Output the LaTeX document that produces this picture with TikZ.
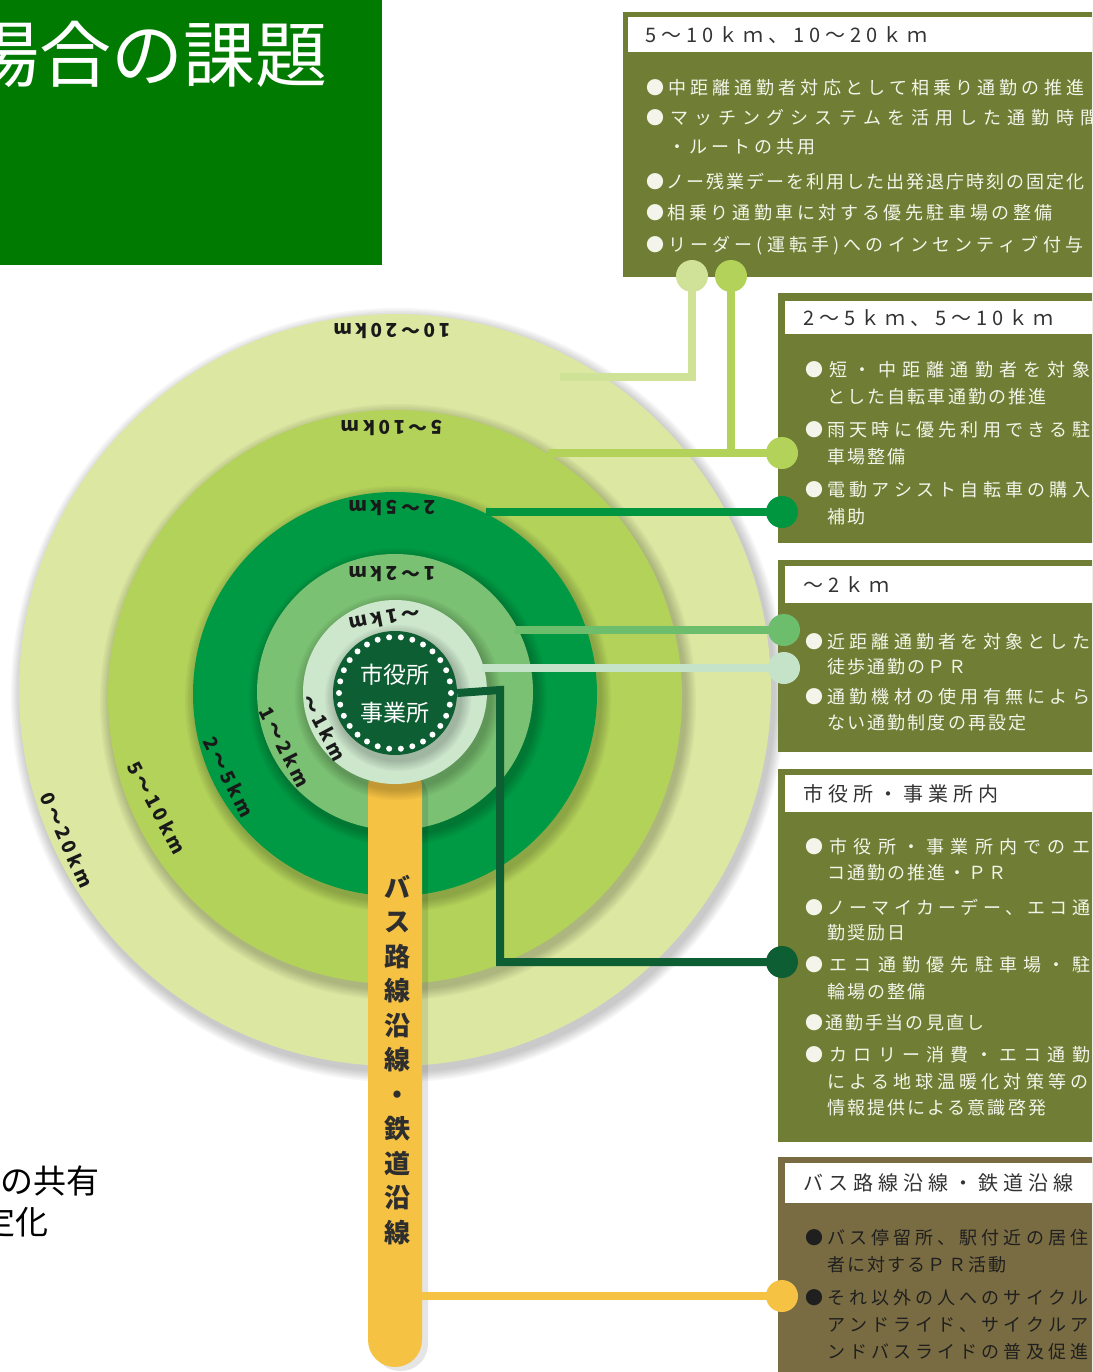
\documentclass[tikz,border=0pt]{standalone}
\usepackage{fontspec}
\setmainfont{Noto Sans CJK JP}
\newfontfamily\jpn{Noto Sans CJK JP}
\newfontfamily\jpb{Noto Sans CJK JP}
\newfontfamily\jplsa[LetterSpace=20]{Noto Sans CJK JP}
\newfontfamily\jpls[LetterSpace=12]{Noto Sans CJK JP}
\newfontfamily\jphead[LetterSpace=25]{Noto Sans CJK JP}
\newfontfamily\jplbl[LetterSpace=18]{Noto Sans CJK JP}
\usetikzlibrary{calc}
\definecolor{titlegreen}{HTML}{007A00}
\definecolor{ringA}{HTML}{DCE8A2}
\definecolor{ringB}{HTML}{B3D25A}
\definecolor{ringC}{HTML}{009A44}
\definecolor{ringD}{HTML}{7BC173}
\definecolor{ringE}{HTML}{CDE7CD}
\definecolor{coreC}{HTML}{0E5E33}
\definecolor{discA}{HTML}{D0E198}
\definecolor{discC}{HTML}{009640}
\definecolor{discD}{HTML}{6CBD6C}
\definecolor{discE}{HTML}{C5E3C8}
\definecolor{olive}{HTML}{6F7E34}
\definecolor{brownbox}{HTML}{7A6C42}
\definecolor{busY}{HTML}{F5C244}
\definecolor{boxtext}{HTML}{F4F4EA}
\definecolor{headtext}{HTML}{333333}
\newcommand\jsloop[1]{\ifx#1\relax\else#1\hfill\expandafter\jsloop\fi}
\newcommand\jspread[2]{\hbox to #1{\jpb\jsloop#2\relax\unskip}}
\newcommand\ringshade[3]{\foreach \k in {1,...,7}{\pgfmathsetmacro\rr{#3+\k*1.6}\fill[black,opacity=0.03] (#1+3,#2+5) circle[radius=\rr];}}
\tikzset{
  ringnode/.style={circle, inner sep=0pt, draw=none},
  disc/.style={circle, inner sep=0pt, minimum size=32pt, draw=none},
  conn/.style={line width=8pt},
  boxbg/.style={anchor=north west, inner sep=0pt, draw=none, rectangle},
  bt/.style={anchor=west, inner sep=0pt, text=boxtext, font=\jpls\fontsize{18}{22}\selectfont},
  bta/.style={bt, font=\jplsa\fontsize{18}{22}\selectfont},
  btd/.style={bt, text=black!88},
  headtxt/.style={anchor=west, inner sep=0pt, text=headtext, font=\jphead\fontsize{20}{24}\selectfont},
  lbl/.style={inner sep=0pt, text=black!90, font=\jplbl\bfseries\fontsize{19}{20}\selectfont},
}
\begin{document}
\begin{tikzpicture}[x=1pt,y=-1pt]
\useasboundingbox (0,0) rectangle (1092,1372);
\clip (0,0) rectangle (1092,1372);
\fill[white] (0,0) rectangle (1092,1372);

% title block
\fill[titlegreen] (0,0) rectangle (382,265);
\node[anchor=east, inner sep=0pt, text=white, font=\jpn\fontsize{72}{80}\selectfont] (title) at (328,54) {場合の課題};

% bottom-left clipped text
\node[anchor=east, inner sep=0pt, font=\jpn\fontsize{33}{36}\selectfont] (bl1) at (100,1181) {の共有};
\node[anchor=east, inner sep=0pt, font=\jpn\fontsize{33}{36}\selectfont] (bl2) at (49,1222) {定化};

% rings
\ringshade{395}{690}{376}
\node[ringnode, fill=ringA, minimum size=752pt] (rA) at (395,690) {};
\ringshade{395}{697}{287}
\node[ringnode, fill=ringB, minimum size=574pt] (rB) at (395,697) {};
\ringshade{395}{694}{202}
\node[ringnode, fill=ringC, minimum size=404pt] (rC) at (395,694) {};
\ringshade{395}{692}{138}
\node[ringnode, fill=ringD, minimum size=276pt] (rD) at (395,692) {};

% bus / rail bar
\fill[black, opacity=0.1, rounded corners=27pt] (373,770) rectangle (428,1371);
\node[fill=busY, rounded corners=27pt, minimum width=54pt, minimum height=607pt, inner sep=0pt] (bar) at (395,1063.5) {};
\node[align=center, inner sep=0pt, text=black!82, font=\jpb\bfseries\fontsize{26}{34.5}\selectfont] (bartxt) at (397,1060) {バ\\ス\\路\\線\\沿\\線\\・\\鉄\\道\\沿\\線};

\ringshade{395}{692}{92}
\node[ringnode, fill=ringE, minimum size=184pt] (rE) at (395,692) {};
\ringshade{395}{693}{62}
\node[ringnode, fill=coreC, minimum size=124pt] (core) at (395,693) {};
\foreach \a in {0,12,...,348} \fill[white] ($(core.center)+(\a:56)$) circle[radius=3];
\node[align=center, inner sep=0pt, text=white, font=\jpn\fontsize{23}{38}\selectfont] (coretxt) at (395,694) {市役所\\事業所};

% connector points
\coordinate (sA) at (560,377);
\coordinate (sB) at (548,453);
\coordinate (sC) at (486,512);
\coordinate (sD) at (515,630);
\coordinate (sE) at (482,668);
\coordinate (kF) at (500,690);
\coordinate (pA) at (692,276);
\coordinate (pAB) at (731,276);
\coordinate (pB) at (782,453);
\coordinate (pC) at (782,512);
\coordinate (pD) at (784,630);
\coordinate (pE) at (784,668);
\coordinate (pF) at (782,962);
\coordinate (pG) at (782,1296);

\draw[conn, discA] (sA) -| (pA);
\draw[conn, ringB] (sB) -- (pB);
\draw[conn, ringB] (pAB) -- (pAB |- pB);
\draw[conn, discC] (sC) -- (pC);
\draw[conn, discD] (sD) -- (pD);
\draw[conn, discE] (sE) -- (pE);
\draw[conn, coreC] (core.east) -- (kF) |- (pF);
\draw[conn, busY] (bar.east |- pG) -- (pG);

% boxes
\node[boxbg, fill=olive, minimum width=480pt, minimum height=265pt] (B1) at (623,12) {};
\node[boxbg, fill=white, minimum width=470pt, minimum height=35pt] (H1) at (628,17) {};
\node[headtxt] (H1t) at (645,35) {5～10ｋｍ、10～20ｋｍ};
\node[bta] (b1l1) at (646,88) {\jspread{438pt}{●中距離通勤者対応として相乗り通勤の推進}};
\node[bta] (b1l2) at (646,118) {\jspread{452pt}{●マッチングシステムを活用した通勤時間}};
\node[bta] (b1l3) at (668,147) {・ルートの共用};
\node[bta] (b1l4) at (646,182) {\jspread{438pt}{●ノー残業デーを利用した出発退庁時刻の固定化}};
\node[bta] (b1l5) at (646,213) {●相乗り通勤車に対する優先駐車場の整備};
\node[bta] (b1l6) at (646,246) {\jspread{437pt}{●リーダー(運転手)へのインセンティブ付与}};

\node[boxbg, fill=olive, minimum width=320pt, minimum height=250pt] (B2) at (778,293) {};
\node[boxbg, fill=white, minimum width=315pt, minimum height=33pt] (H2) at (785,301) {};
\node[headtxt] (H2t) at (803,318) {2～5ｋｍ、5～10ｋｍ};
\node[bt] (b2l1) at (805,370) {\jspread{285pt}{●短・中距離通勤者を対象}};
\node[bt] (b2l2) at (827,397) {とした自転車通勤の推進};
\node[bt] (b2l3) at (805,430) {\jspread{285pt}{●雨天時に優先利用できる駐}};
\node[bt] (b2l4) at (827,457) {車場整備};
\node[bt] (b2l5) at (805,490) {\jspread{285pt}{●電動アシスト自転車の購入}};
\node[bt] (b2l6) at (827,517) {補助};

\node[boxbg, fill=olive, minimum width=320pt, minimum height=192pt] (B3) at (778,560) {};
\node[boxbg, fill=white, minimum width=315pt, minimum height=37pt] (H3) at (785,566) {};
\node[headtxt] (H3t) at (803,585) {～2ｋｍ};
\node[bt] (b3l1) at (805,642) {\jspread{285pt}{●近距離通勤者を対象とした}};
\node[bt] (b3l2) at (827,667) {徒歩通勤のＰＲ};
\node[bt] (b3l3) at (805,697) {\jspread{285pt}{●通勤機材の使用有無によら}};
\node[bt] (b3l4) at (827,723) {ない通勤制度の再設定};

\node[boxbg, fill=olive, minimum width=320pt, minimum height=373pt] (B4) at (778,769) {};
\node[boxbg, fill=white, minimum width=315pt, minimum height=37pt] (H4) at (785,775) {};
\node[headtxt] (H4t) at (803,794) {市役所・事業所内};
\node[bt] (b4l1) at (805,847) {\jspread{285pt}{●市役所・事業所内でのエ}};
\node[bt] (b4l2) at (827,873) {コ通勤の推進・ＰＲ};
\node[bt] (b4l3) at (805,907) {\jspread{285pt}{●ノーマイカーデー、エコ通}};
\node[bt] (b4l4) at (827,933) {勤奨励日};
\node[bt] (b4l5) at (805,965) {\jspread{285pt}{●エコ通勤優先駐車場・駐}};
\node[bt] (b4l6) at (827,992) {輪場の整備};
\node[bt] (b4l7) at (805,1023) {●通勤手当の見直し};
\node[bt] (b4l8) at (805,1055) {\jspread{285pt}{●カロリー消費・エコ通勤}};
\node[bt] (b4l9) at (827,1082) {\jspread{261pt}{による地球温暖化対策等の}};
\node[bt] (b4l10) at (827,1108) {情報提供による意識啓発};

\node[boxbg, fill=brownbox, minimum width=320pt, minimum height=220pt] (B5) at (778,1157) {};
\node[boxbg, fill=white, minimum width=315pt, minimum height=40pt] (H5) at (785,1163) {};
\node[headtxt] (H5t) at (803,1183) {バス路線沿線・鉄道沿線};
\node[btd] (b5l1) at (805,1238) {\jspread{283pt}{●バス停留所、駅付近の居住}};
\node[btd] (b5l2) at (827,1265) {者に対するＰＲ活動};
\node[btd] (b5l3) at (805,1298) {\jspread{283pt}{●それ以外の人へのサイクル}};
\node[btd] (b5l4) at (827,1325) {\jspread{261pt}{アンドライド、サイクルア}};
\node[btd] (b5l5) at (827,1352) {\jspread{261pt}{ンドバスライドの普及促進}};

% discs
\node[disc, fill=discA] (dA) at (pA) {};
\node[disc, fill=ringB] (dAB) at (pAB) {};
\node[disc, fill=ringB] (dB) at (pB) {};
\node[disc, fill=discC] (dC) at (pC) {};
\node[disc, fill=discD] (dD) at (pD) {};
\node[disc, fill=discE] (dE) at (pE) {};
\node[disc, fill=coreC] (dF) at (pF) {};
\node[disc, fill=busY] (dG) at (pG) {};

% ring labels (top, upside down)
\node[lbl, rotate=180] (tA) at (392,331) {10～20km};
\node[lbl, rotate=180] (tB) at (392,428) {5～10km};
\node[lbl, rotate=180] (tC) at (392,508) {2～5km};
\node[lbl, rotate=180] (tD) at (392,574) {1～2km};
\node[lbl, rotate=191] (tE) at (385,619) {～1km};
% ring labels (left side)
\node[lbl, rotate=-66] (lA) at (67,840) {0～20km};
\node[lbl, rotate=-62] (lB) at (157,808) {5～10km};
\node[lbl, rotate=-63] (lC) at (229,777) {2～5km};
\node[lbl, rotate=-63] (lD) at (285,747) {1～2km};
\node[lbl, rotate=-62] (lE) at (324,728) {～1km};
\end{tikzpicture}
\end{document}
